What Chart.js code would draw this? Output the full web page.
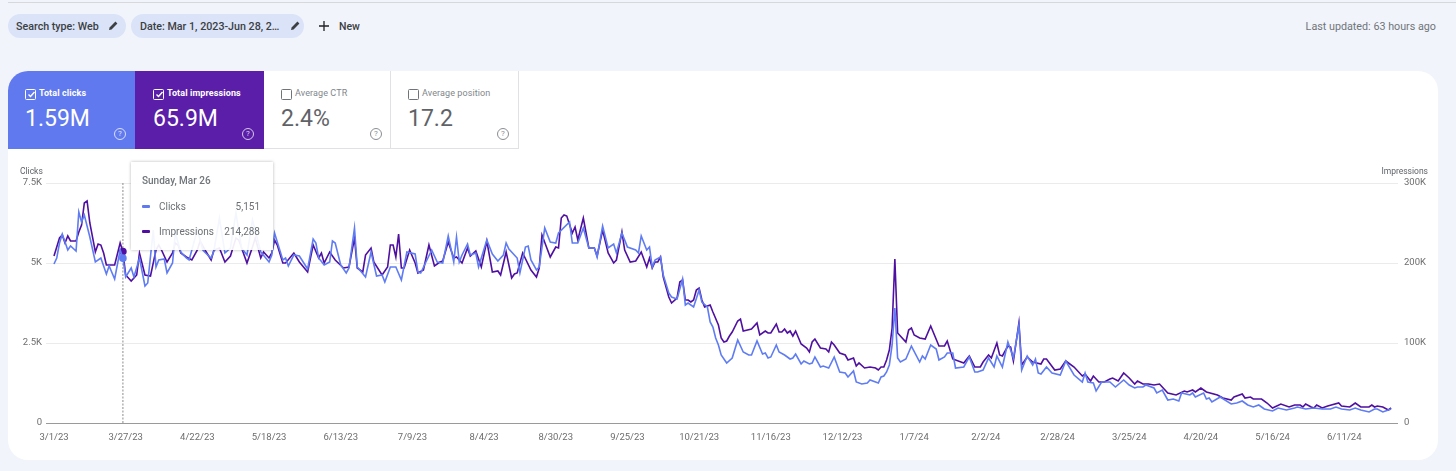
<!DOCTYPE html>
<html><head><meta charset="utf-8">
<script src="https://cdn.jsdelivr.net/npm/chart.js@4"></script>
<style>
html,body{margin:0;padding:0;width:1456px;height:471px;overflow:hidden;background:#f1f4fa;font-family:Roboto,sans-serif;}
.abs{position:absolute;white-space:nowrap;}
#rule{left:8px;top:2px;width:1448px;height:1px;background:#d6d8dc;}
.chip{height:24px;top:14px;border-radius:12px;background:#dbe3f8;color:#3c4043;font-size:10.7px;line-height:25px;font-weight:500;box-sizing:border-box;padding-left:8px;}
#card{left:8px;top:71px;width:1430px;height:389px;background:#fff;border-radius:20px;}
canvas{position:absolute;left:0;top:0;}
.tile{top:71px;height:78px;box-sizing:border-box;}
.tl{position:absolute;left:31px;top:17px;font-size:9px;font-weight:700;color:#fff;letter-spacing:.1px;}
.tv{position:absolute;left:17px;top:34px;font-size:23px;font-weight:400;color:#fff;}
.cb{position:absolute;left:17px;top:18px;width:9px;height:9px;border:1px solid #fff;border-radius:1.5px;}
.help{position:absolute;left:106px;top:57px;width:10px;height:10px;border:1px solid rgba(255,255,255,.75);border-radius:50%;font-size:8px;line-height:10px;text-align:center;color:rgba(255,255,255,.85);}
.lt .tl{color:#80868b;font-weight:400;left:31px;}
.lt .tv{color:#5f6368;}
.lt .cb{border-color:#6f7478;}
.lt .help{border-color:#8a8e92;color:#8a8e92;}
.axt{font-size:8.5px;color:#5f6368;top:166px;}
#tip{left:131px;top:162px;width:142px;height:88px;background:rgba(255,255,255,.93);box-shadow:0 0 3px rgba(0,0,0,.28);color:#6c7074;font-size:10px;}
#tip div{position:absolute;white-space:nowrap;}
</style></head><body>
<div class="abs" id="rule"></div>
<div class="abs chip" style="left:8px;width:118px">Search type: Web</div>
<svg class="abs" style="left:108px;top:20px" width="11" height="11" viewBox="0 0 11 11"><path d="M1 10l.6-2.6L7.4 1.6l2 2L3.6 9.4z" fill="#3c4043"/></svg>
<div class="abs chip" style="left:131px;width:173px;padding-left:9px">Date: Mar 1, 2023-Jun 28, 2…</div>
<svg class="abs" style="left:290px;top:20px" width="11" height="11" viewBox="0 0 11 11"><path d="M1 10l.6-2.6L7.4 1.6l2 2L3.6 9.4z" fill="#3c4043"/></svg>
<svg class="abs" style="left:318px;top:20px" width="12" height="12" viewBox="0 0 12 12"><path d="M6 1v10M1 6h10" stroke="#202124" stroke-width="1.3"/></svg>
<div class="abs" style="left:339px;top:20px;font-size:10.5px;font-weight:500;color:#3c4043">New</div>
<div class="abs" style="right:20px;top:20px;font-size:10.75px;color:#70757a">Last updated: 63 hours ago</div>
<div class="abs" id="card"></div>
<canvas id="c" width="1456" height="471"></canvas>
<div class="abs tile" style="left:8px;width:127px;background:#6079ee;border-top-left-radius:20px">
 <div class="cb"></div><div class="tl">Total clicks</div><div class="tv">1.59M</div><div class="help">?</div></div>
<div class="abs tile" style="left:135px;width:129px;background:#5a1ea9">
 <div class="cb" style="left:18px"></div><div class="tl" style="left:32px">Total impressions</div><div class="tv" style="left:18px">65.9M</div><div class="help" style="left:107px">?</div></div>
<div class="abs tile lt" style="left:264px;width:127px;background:#fff;border-right:1px solid #dfe1e5;border-bottom:1px solid #dfe1e5">
 <div class="cb" style="border-radius:1.5px"></div><div class="tl">Average CTR</div><div class="tv">2.4%</div><div class="help">?</div></div>
<div class="abs tile lt" style="left:391px;width:128px;background:#fff;border-right:1px solid #dfe1e5;border-bottom:1px solid #dfe1e5">
 <div class="cb"></div><div class="tl">Average position</div><div class="tv">17.2</div><div class="help">?</div></div>
<svg class="abs" style="left:27px;top:90px" width="9" height="9"><path d="M1.5 4.5l2 2L7.5 2" stroke="#fff" stroke-width="1.4" fill="none"/></svg>
<svg class="abs" style="left:155px;top:90px" width="9" height="9"><path d="M1.5 4.5l2 2L7.5 2" stroke="#fff" stroke-width="1.4" fill="none"/></svg>
<div class="abs axt" style="left:20px">Clicks</div>
<div class="abs axt" style="right:28px">Impressions</div>
<div class="abs" id="tip">
 <div style="left:11px;top:13px;font-size:10px;font-weight:500;color:#70757a">Sunday, Mar 26</div>
 <div style="left:11px;top:43px;width:8px;height:2.5px;background:#6079ee;border-radius:1px"></div>
 <div style="left:28px;top:39px">Clicks</div>
 <div id="tipC" style="right:13px;top:39px"></div>
 <div style="left:11px;top:68px;width:8px;height:2.5px;background:#4f0fa0;border-radius:1px"></div>
 <div style="left:28px;top:64px">Impressions</div>
 <div id="tipI" style="right:13px;top:64px"></div>
</div>
<script>
const xTickDays=[0,26,52,78,104,130,156,182,208,234,260,286,312,338,364,390,416,442,468];
const xTickLabels=["3/1/23","3/27/23","4/22/23","5/18/23","6/13/23","7/9/23","8/4/23","8/30/23","9/25/23","10/21/23","11/16/23","12/12/23","1/7/24","2/2/24","2/28/24","3/25/24","4/20/24","5/16/24","6/11/24"];
const clickTicks=[0,2500,5000,7500];
const imprTicks=[0,100000,200000,300000];
const hoverDay=25;
const clickDays=[0,1,2,3,4,5,6,8,9,10,11,13,15,17,19,20,22,24,25,26,28,29,31,33,34,36,37,38,40,41,43,44,46,48,49,50,52,54,55,57,58,60,62,64,66,68,70,72,75,78,79,80,83,84,85,87,89,92,94,95,96,98,100,101,102,104,106,107,109,110,113,115,117,119,120,122,124,126,128,131,132,133,137,139,141,143,145,146,147,148,150,151,153,154,157,159,161,163,164,165,168,169,171,172,173,175,176,178,180,182,183,187,188,190,192,194,196,197,199,201,203,204,206,208,211,212,213,215,216,217,218,220,221,223,224,226,228,229,230,232,234,235,237,238,239,240,241,242,244,246,248,250,252,253,255,257,258,259,260,262,263,265,267,268,269,271,272,274,275,276,278,279,281,283,285,287,288,290,291,293,295,296,299,300,301,302,303,304,305,306,307,309,311,314,315,316,318,320,321,323,324,326,327,330,332,334,335,337,339,341,342,344,346,348,350,351,353,355,356,357,358,360,362,365,367,370,373,374,375,377,378,380,383,385,388,390,392,393,395,396,399,400,402,404,406,408,409,412,413,414,417,418,419,420,423,427,429,431,433,435,437,439,442,444,447,450,451,454,457,460,463,465,467,470,472,474,477,479,480,482,484,485];
const clickValues=[4969,5156,5625,5906,5656,5406,5531,5375,6594,6281,6500,5813,5031,5156,4656,4906,4500,5406,5151,4563,4844,4563,5156,4281,4375,6031,4875,5094,5125,4688,5000,5938,5344,5156,5094,5406,6031,5406,5313,5156,5375,6406,5313,5469,6563,5469,5250,6344,5344,5031,5250,5938,5094,5156,4906,5250,5219,4813,5750,5625,5156,4938,5031,5688,5625,4938,4688,4844,6094,4875,4563,5344,4594,4625,4406,4875,4875,4469,5344,5281,4719,4688,5406,5031,5000,5844,5031,5813,5031,5250,5594,5250,5313,4875,5719,5281,5063,5250,5625,5438,5156,4688,5500,5531,5094,4781,4875,6094,5656,5625,5938,6281,5625,5625,6094,5469,5469,5188,6156,5469,5594,5313,5938,5500,5406,5313,5844,5406,5500,4875,5094,5188,4625,4063,3938,3875,4500,3688,3750,3625,4156,3781,3625,3156,3000,2656,2438,2125,1875,2031,2594,2219,2125,2125,2563,2156,2188,2031,2063,2438,2219,2125,2000,2031,2156,1844,1938,1844,1875,2063,1750,1781,1719,2063,1594,1563,1438,1625,1281,1219,1250,1344,1250,1438,1469,1594,1813,2438,3594,2031,1906,2000,2406,1906,2094,2000,2438,2313,1969,2063,2188,2188,1719,1750,2063,1594,1594,1656,2031,1750,2094,1750,2531,2031,3063,1656,2094,1813,2000,1563,1531,1750,1563,1500,1938,1500,1281,1563,1281,1250,1000,1281,1281,1125,1344,1188,1094,1125,1125,1188,1094,938,1031,719,750,688,938,875,938,813,938,750,781,656,813,594,625,688,563,500,563,438,375,469,406,469,500,438,469,438,438,500,438,406,469,406,344,438,438,344,406,438];
const imprDays=[0,1,2,3,4,5,6,8,9,10,11,12,13,15,16,17,18,19,22,24,25,26,28,30,31,33,35,37,38,39,41,43,44,45,46,48,50,52,53,55,57,58,60,62,64,65,66,67,70,72,73,75,76,78,79,80,81,83,84,87,89,92,94,96,97,98,100,102,105,107,109,110,112,113,115,116,119,121,122,123,124,125,126,127,129,131,132,134,136,138,140,141,143,145,146,148,150,151,153,155,157,159,161,162,164,166,167,168,170,173,175,176,177,180,182,183,184,185,186,188,189,190,192,194,196,197,199,201,203,204,206,207,209,211,213,215,216,217,218,219,220,221,223,224,226,227,228,229,230,231,232,233,234,235,236,238,239,241,242,243,244,245,246,248,249,250,253,255,256,258,259,260,262,263,264,265,266,267,268,269,271,273,274,275,276,278,280,281,282,283,285,287,288,290,291,292,294,296,298,299,300,301,302,303,304,305,306,309,310,311,312,314,316,318,321,323,324,326,329,330,332,334,336,337,339,340,342,343,344,346,347,348,350,351,353,355,358,359,360,363,365,367,370,373,374,376,377,379,381,383,384,386,388,390,392,393,395,397,399,401,404,407,410,411,413,414,416,418,422,424,427,428,431,432,434,435,438,440,442,445,448,450,452,453,454,456,457,458,460,462,466,467,470,472,474,477,478,479,480,482,484,485];
const imprValues=[208750,220000,231250,235000,225000,233750,227500,227500,238750,247500,275000,277500,250000,213750,223750,222500,212500,197500,197500,225000,214288,185000,177500,185000,212500,185000,183750,216250,222500,216250,201250,212500,225000,222500,212500,207500,203750,216250,227500,215000,203750,216250,218750,201250,208750,220000,231250,228750,200000,220000,231250,206250,213750,206250,212500,228750,222500,200000,200000,212500,201250,188750,222500,206250,212500,200000,213750,203750,193750,195000,231250,193750,188750,210000,218750,201250,185000,195000,222500,222500,207500,236250,193750,193750,216250,200000,187500,191250,222500,196250,201250,202500,226250,206250,207500,200000,218750,208750,215000,195000,227500,188750,190000,185000,213750,181250,186250,187500,212500,191250,182500,193750,235000,207500,220000,218750,256250,260000,258750,237500,245000,228750,256250,218750,218750,208750,241250,212500,200000,203750,238750,216250,201250,202500,213750,195000,206250,193750,201250,201250,207500,182500,157500,150000,156250,176250,178750,153750,153750,151250,153750,166250,168750,153750,145000,147500,138750,122500,106250,101250,102500,108750,113750,127500,130000,115000,117500,125000,110000,115000,112500,112500,123750,113750,113750,117500,112500,115000,108750,115000,98750,93750,88750,101250,105000,93750,92500,88750,101250,97500,87500,85000,78750,81250,71250,75000,68750,70000,68750,66250,70000,70000,78750,91250,118750,205000,112500,101250,116250,118750,110000,106250,105000,121250,96250,96250,102500,80000,76250,75000,83750,70000,70000,76250,85000,81250,100000,85000,83750,96250,95000,77500,125000,72500,82500,76250,73750,80000,80000,66250,67500,77500,70000,58750,61250,52500,58750,51250,51250,55000,56250,52500,62500,56250,48750,52500,48750,48750,47500,48750,37500,35000,40000,38750,41250,38750,43750,38750,35000,31250,28750,32500,36250,31250,32500,30000,30000,25000,18750,23750,20000,22500,22500,20000,23750,20000,18750,22500,18750,21250,25000,21250,20000,25000,20000,20000,22500,20000,21250,20000,16250,18750];

const pairs=(d,v)=>d.map((x,i)=>({x:x,y:v[i]}));
const fmt=n=>n.toLocaleString('en-US');
document.getElementById('tipC').textContent=fmt(clickValues[clickDays.indexOf(hoverDay)]);
document.getElementById('tipI').textContent=fmt(imprValues[imprDays.indexOf(hoverDay)]);
const shortK=v=>v===0?'0':(v/1000)+'K';
const hoverLine={id:'hoverLine',beforeDatasetsDraw(ch){
  const x=ch.scales.x.getPixelForValue(hoverDay),a=ch.chartArea,g=ch.ctx;
  g.save();g.strokeStyle='#8c8c8c';g.lineWidth=1;g.setLineDash([2,1.5]);
  g.beginPath();g.moveTo(x,a.top);g.lineTo(x,a.bottom);g.stroke();g.restore();
}};
const pr=()=>c=>c.raw&&c.raw.x===hoverDay?3:0;
const tickFont={family:'Roboto',size:9.5};
new Chart(document.getElementById('c'),{
 type:'line',
 plugins:[hoverLine],
 data:{datasets:[
  {label:'Clicks',data:pairs(clickDays,clickValues),yAxisID:'y',borderColor:'#5f7cf2',backgroundColor:'#5f7cf2',borderWidth:1.6,tension:0,pointRadius:pr(),pointHoverRadius:0},
  {label:'Impressions',data:pairs(imprDays,imprValues),yAxisID:'y2',borderColor:'#4f0fa0',backgroundColor:'#4f0fa0',borderWidth:1.6,tension:0,pointRadius:pr(),pointHoverRadius:0}
 ]},
 options:{
  responsive:false,animation:false,devicePixelRatio:1,
  layout:{padding:{top:183,left:0,right:0,bottom:0},autoPadding:false},
  plugins:{legend:{display:false},tooltip:{enabled:false}},
  events:[],
  scales:{
   x:{type:'linear',min:-2.9,max:487.5,
      afterBuildTicks(s){s.ticks=xTickDays.map(v=>({value:v}));},
      afterFit(s){s.height=48;},
      grid:{display:false},border:{display:false},
      ticks:{autoSkip:false,maxRotation:0,minRotation:0,padding:1,color:'#6d6d6d',font:tickFont,
             callback:v=>{const i=xTickDays.indexOf(v);return i<0?'':xTickLabels[i];}}},
   y:{type:'linear',position:'left',min:0,max:7500,
      afterBuildTicks(s){s.ticks=clickTicks.map(v=>({value:v}));},
      afterFit(s){s.width=46;},
      border:{display:false},
      grid:{drawTicks:false,lineWidth:1,color:c=>c.tick.value===0?'#9a9a9a':'#ebebeb'},
      ticks:{padding:4,color:'#6d6d6d',font:tickFont,callback:shortK}},
   y2:{type:'linear',position:'right',min:0,max:300000,
      afterBuildTicks(s){s.ticks=imprTicks.map(v=>({value:v}));},
      afterFit(s){s.width=58;},
      border:{display:false},
      grid:{display:false,drawTicks:false},
      ticks:{padding:6,color:'#6d6d6d',font:tickFont,callback:shortK}}
  }
 }
});
</script>
</body></html>
